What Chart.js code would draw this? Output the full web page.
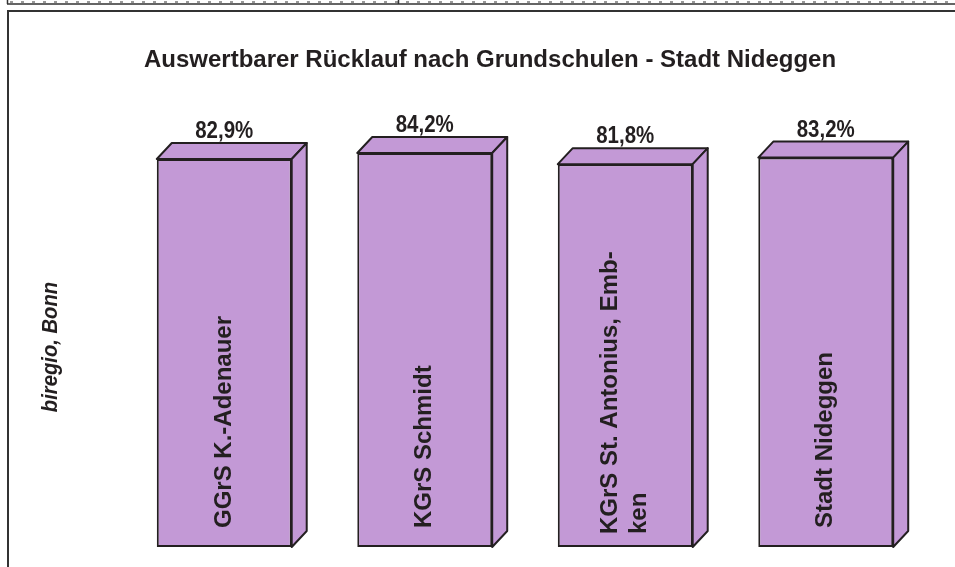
<!DOCTYPE html>
<html>
<head>
<meta charset="utf-8">
<script src="https://cdn.jsdelivr.net/npm/chart.js@4/dist/chart.umd.min.js"></script>
<style>
 html, body { margin: 0; padding: 0; background: #fff; }
 #wrap { width: 955px; height: 567px; }
</style>
</head>
<body>
<div id="wrap"><canvas id="quote"></canvas></div>
<script>
const schools = ['GGrS K.-Adenauer', 'KGrS Schmidt', ['KGrS St. Antonius, Emb-', 'ken'], 'Stadt Nideggen'];
const quote = [82.9, 84.2, 81.8, 83.2];
const valueLabels = ['82,9%', '84,2%', '81,8%', '83,2%'];

const titleText = 'Auswertbarer Rücklauf nach Grundschulen - Stadt Nideggen';
const sideText = 'biregio, Bonn';

const fill = '#c399d6';
const edge = '#231f20';
const ink = '#231f20';
const depthX = 15, depthY = 16;

// rahmen oben und links, titel, quelle
const framePlugin = {
  id: 'frame',
  beforeDraw(chart) {
    const ctx = chart.ctx;
    ctx.save();
    ctx.strokeStyle = '#333';
    ctx.lineWidth = 1.5;
    ctx.beginPath();
    ctx.moveTo(7, 4); ctx.lineTo(955, 4);
    ctx.moveTo(7.5, 0); ctx.lineTo(7.5, 4);
    ctx.moveTo(398.5, 0); ctx.lineTo(398.5, 4);
    ctx.stroke();
    ctx.lineWidth = 1;
    ctx.setLineDash([3, 8]);
    ctx.beginPath();
    ctx.moveTo(10, 2); ctx.lineTo(955, 2);
    ctx.stroke();
    ctx.setLineDash([]);
    ctx.lineWidth = 2;
    ctx.beginPath();
    ctx.moveTo(7, 11); ctx.lineTo(955, 11);
    ctx.moveTo(8, 11); ctx.lineTo(8, 567);
    ctx.stroke();

    ctx.fillStyle = ink;
    ctx.font = 'bold 24px "Liberation Sans", Arial, sans-serif';
    ctx.textAlign = 'center';
    ctx.textBaseline = 'alphabetic';
    ctx.fillText(titleText, 490, 67);

    ctx.translate(57, 347);
    ctx.rotate(-Math.PI / 2);
    ctx.scale(0.92, 1);
    ctx.font = 'italic bold 22px "Liberation Sans", Arial, sans-serif';
    ctx.fillText(sideText, 0, 0);
    ctx.restore();
  }
};

// 3d seiten, werte und beschriftung
const boxPlugin = {
  id: 'box3d',
  afterDatasetsDraw(chart) {
    const ctx = chart.ctx;
    const bars = chart.getDatasetMeta(0).data;
    ctx.save();
    ctx.lineJoin = 'round';
    bars.forEach((b, i) => {
      const left = b.x - b.width / 2, right = b.x + b.width / 2;
      const top = b.y, bottom = b.base;
      ctx.fillStyle = fill;
      ctx.strokeStyle = edge;
      ctx.lineWidth = 2;
      // oben
      ctx.beginPath();
      ctx.moveTo(left, top);
      ctx.lineTo(left + depthX, top - depthY);
      ctx.lineTo(right + depthX, top - depthY);
      ctx.lineTo(right, top);
      ctx.closePath();
      ctx.fill(); ctx.stroke();
      // rechts
      ctx.beginPath();
      ctx.moveTo(right, top);
      ctx.lineTo(right + depthX, top - depthY);
      ctx.lineTo(right + depthX, bottom - depthY);
      ctx.lineTo(right, bottom);
      ctx.closePath();
      ctx.fill(); ctx.stroke();

      ctx.fillStyle = ink;
      ctx.save();
      ctx.translate(b.x, top - depthY - 5);
      ctx.scale(0.89, 1);
      ctx.font = 'bold 23px "Liberation Sans", Arial, sans-serif';
      ctx.textAlign = 'center';
      ctx.textBaseline = 'alphabetic';
      ctx.fillText(valueLabels[i], 0, 0);
      ctx.restore();

      const lines = [].concat(schools[i]);
      ctx.save();
      ctx.translate(b.x, bottom - (lines.length > 1 ? 13 : 19));
      ctx.rotate(-Math.PI / 2);
      ctx.font = 'bold 24px "Liberation Sans", Arial, sans-serif';
      ctx.textAlign = 'left';
      ctx.textBaseline = 'middle';
      const gap = 29;
      lines.forEach((t, k) => {
        const off = (k - (lines.length - 1) / 2) * gap;
        ctx.fillText(t, 0, off);
      });
      ctx.restore();
    });
    ctx.restore();
  }
};

new Chart(document.getElementById('quote'), {
  type: 'bar',
  data: {
    labels: schools,
    datasets: [{
      data: quote,
      backgroundColor: fill,
      borderColor: edge,
      borderWidth: 2,
      borderSkipped: false,
      categoryPercentage: 1,
      barPercentage: 0.673
    }]
  },
  options: {
    responsive: true,
    maintainAspectRatio: false,
    animation: false,
    layout: { padding: { top: 79, bottom: 20, left: 124, right: 29 } },
    plugins: {
      legend: { display: false },
      tooltip: { enabled: false },
      title: { display: false }
    },
    scales: {
      x: { display: false },
      y: { display: false, min: 0, max: 100 }
    }
  },
  plugins: [framePlugin, boxPlugin]
});
</script>
</body>
</html>
